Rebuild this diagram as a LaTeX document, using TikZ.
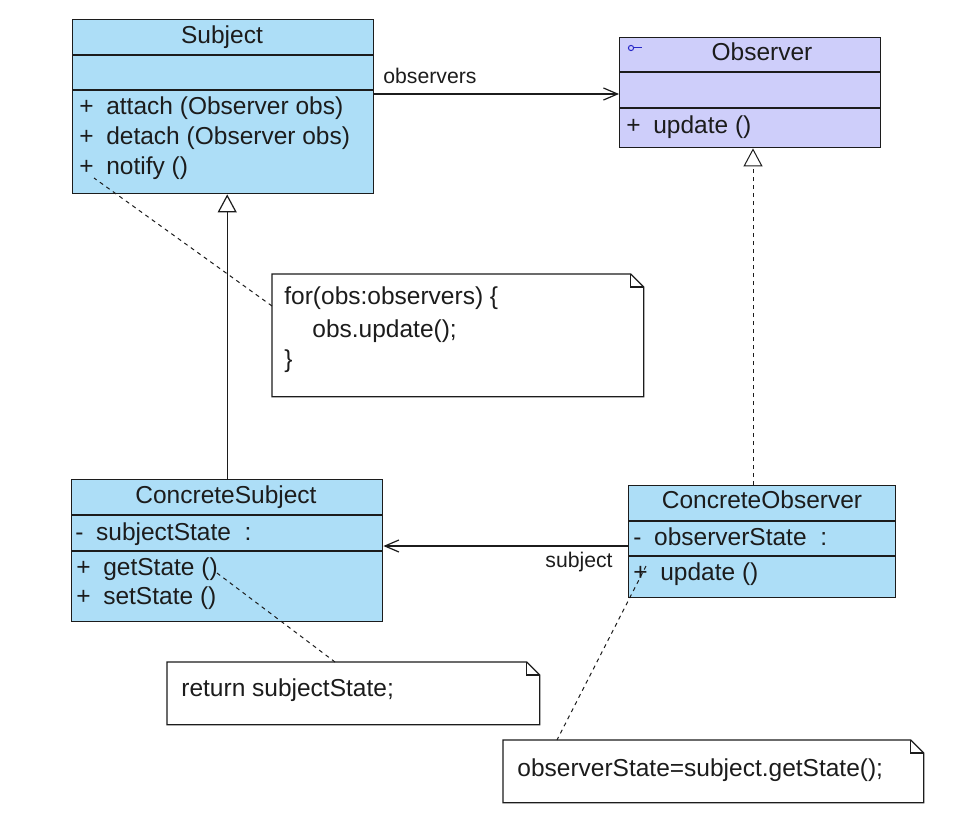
\documentclass[tikz,border=0pt]{standalone}
\usepackage{fontspec}
\setmainfont{Liberation Sans}
\usetikzlibrary{arrows.meta,calc}
\definecolor{subjblue}{RGB}{173,222,247}
\definecolor{obslav}{RGB}{206,206,250}
\definecolor{ink}{RGB}{28,28,28}
\definecolor{iconblue}{RGB}{40,40,200}
\newcommand{\umlvis}[1]{#1\hspace{6.3pt}}
\begin{document}
\begin{tikzpicture}[x=0.5pt,y=-0.5pt,
  box/.style={draw=ink, line width=0.7pt, inner sep=0pt, anchor=north west},
  notebox/.style={inner sep=0pt, anchor=north west},
  txt/.style={inner sep=0pt, anchor=west, text height=8.8pt, text depth=2.6pt,
              font=\fontsize{12.25}{14}\selectfont, text=ink},
  lbl/.style={txt, font=\fontsize{10.6}{12}\selectfont},
  ttl/.style={txt, anchor=center},
  lnk/.style={draw=ink, line width=0.6pt},
  dsh/.style={draw=ink, line width=0.5pt, dash pattern=on 2pt off 2pt},
  openhead/.style={-{Straight Barb[length=7pt,width=6pt]}},
  genhead/.style={-{Triangle[open,length=9pt,width=9.5pt,fill=white]}},
  noteline/.style={draw=ink, line width=0.6pt, fill=white}
]
\useasboundingbox (0,0) rectangle (963,824);

% ---------- Subject ----------
\node[box, fill=subjblue, minimum width=150.5pt, minimum height=87pt] (subject) at (72,19) {};
\draw[lnk] ($(subject.north west)+(0,36)$) -- ($(subject.north east)+(0,36)$);
\draw[lnk] ($(subject.north west)+(0,71)$) -- ($(subject.north east)+(0,71)$);
\node[ttl] (subjectT) at (222,37) {Subject};
\node[txt] (subjectM1) at (79,108) {\umlvis{+}attach (Observer obs)};
\node[txt] (subjectM2) at (79,138) {\umlvis{+}detach (Observer obs)};
\node[txt] (subjectM3) at (79,168) {\umlvis{+}notify ()};

% ---------- Observer ----------
\node[box, fill=obslav, minimum width=130.5pt, minimum height=55pt] (observer) at (619,37) {};
\draw[lnk] ($(observer.north west)+(0,35)$) -- ($(observer.north east)+(0,35)$);
\draw[lnk] ($(observer.north west)+(0,71)$) -- ($(observer.north east)+(0,71)$);
\node[ttl] (observerT) at (762,54) {Observer};
\node[txt] (observerM1) at (626,127) {\umlvis{+}update ()};
\draw[iconblue, line width=0.5pt] (631,48) circle[radius=1.3pt];
\draw[iconblue, line width=0.5pt] (634,48) -- (642,48);

% ---------- ConcreteSubject ----------
\node[box, fill=subjblue, minimum width=155.5pt, minimum height=71pt] (csubject) at (71,479) {};
\draw[lnk] ($(csubject.north west)+(0,36)$) -- ($(csubject.north east)+(0,36)$);
\draw[lnk] ($(csubject.north west)+(0,72)$) -- ($(csubject.north east)+(0,72)$);
\node[ttl] (csubjectT) at (226,497) {ConcreteSubject};
\node[txt] (csubjectA1) at (75,534) {\umlvis{-}subjectState \ :};
\node[txt] (csubjectM1) at (76,569) {\umlvis{+}getState ()};
\node[txt] (csubjectM2) at (76,598) {\umlvis{+}setState ()};

% ---------- ConcreteObserver ----------
\node[box, fill=subjblue, minimum width=133.5pt, minimum height=56pt] (cobserver) at (628,485) {};
\draw[lnk] ($(cobserver.north west)+(0,36)$) -- ($(cobserver.north east)+(0,36)$);
\draw[lnk] ($(cobserver.north west)+(0,71)$) -- ($(cobserver.north east)+(0,71)$);
\node[ttl] (cobserverT) at (762,502) {ConcreteObserver};
\node[txt] (cobserverA1) at (633,539) {\umlvis{-}observerState \ :};
\node[txt] (cobserverM1) at (633,574) {\umlvis{+}update ()};

% ---------- Notes ----------
\node[notebox, minimum width=185.5pt, minimum height=61pt] (note1) at (272,274) {};
\draw[noteline] (note1.north west) -- ($(note1.north east)+(-13,0)$) -- ($(note1.north east)+(0,13)$)
   -- (note1.south east) -- (note1.south west) -- cycle;
\draw[lnk] ($(note1.north east)+(-13,0)$) -- ($(note1.north east)+(-13,13)$) -- ($(note1.north east)+(0,13)$);
\node[txt] (note1L1) at (284,298) {for(obs:observers) \{};
\node[txt] (note1L2) at (312,331) {obs.update();};
\node[txt] (note1L3) at (284,361) {\}};

\node[notebox, minimum width=186pt, minimum height=31pt] (note2) at (167,662) {};
\draw[noteline] (note2.north west) -- ($(note2.north east)+(-13,0)$) -- ($(note2.north east)+(0,13)$)
   -- (note2.south east) -- (note2.south west) -- cycle;
\draw[lnk] ($(note2.north east)+(-13,0)$) -- ($(note2.north east)+(-13,13)$) -- ($(note2.north east)+(0,13)$);
\node[txt] (note2L1) at (181,690) {return subjectState;};

\node[notebox, minimum width=210pt, minimum height=31pt] (note3) at (503,740) {};
\draw[noteline] (note3.north west) -- ($(note3.north east)+(-13,0)$) -- ($(note3.north east)+(0,13)$)
   -- (note3.south east) -- (note3.south west) -- cycle;
\draw[lnk] ($(note3.north east)+(-13,0)$) -- ($(note3.north east)+(-13,13)$) -- ($(note3.north east)+(0,13)$);
\node[txt] (note3L1) at (517,770) {observerState=subject.getState();};

% ---------- Connectors ----------
\draw[lnk, openhead] ($(subject.north east)+(0,75)$) -- ($(observer.north west)+(0,57)$);
\node[lbl] (lblObservers) at (383,77) {observers};

\draw[lnk, genhead] (csubject.north) -- (csubject.north |- subject.south);

\coordinate (realStart) at ($(cobserver.north west)+(125,0)$);
\draw[dsh, genhead] (realStart) -- (realStart |- observer.south);

\draw[lnk, openhead] ($(cobserver.north west)+(0,61)$) -- ($(csubject.north east)+(0,67)$);
\node[lbl] (lblSubject) at (545,561) {subject};

\coordinate (notifyPt) at (94,178);
\draw[dsh] ($(note1.north west)+(0,32)$) -- (notifyPt);
\coordinate (getStatePt) at (217,573);
\draw[dsh] (getStatePt) -- ($(note2.north west)+(168,0)$);
\coordinate (updatePt) at (646,566);
\draw[dsh] (updatePt) -- ($(note3.north west)+(54,0)$);
\end{tikzpicture}
\end{document}
